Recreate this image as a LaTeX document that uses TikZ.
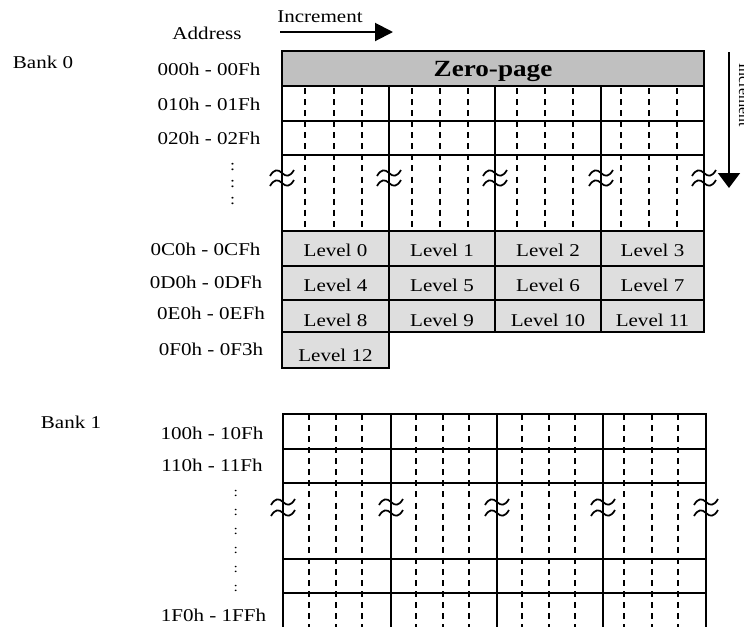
\documentclass[tikz,border=0pt]{standalone}
\usepackage{fontspec}
\setmainfont{Liberation Serif}[FakeStretch=1.17]
\newfontfamily\narrowserif{Liberation Serif}
\usetikzlibrary{arrows.meta}
\definecolor{zgray}{RGB}{192,192,192}
\definecolor{lgray}{RGB}{222,222,222}
\tikzset{
  gridline/.style={line width=1.4pt, line cap=rect},
  dashline/.style={line width=1.6pt, dash pattern=on 4.5pt off 3.8pt},
  lbl/.style={inner sep=0pt, anchor=base, font=\fontsize{13.5pt}{16pt}\selectfont},
  dotlbl/.style={inner sep=0pt, anchor=base},
  cell/.style={line width=1.4pt, draw=black, fill=lgray},
  breakmark/.pic={\draw[line width=1.3pt] (-12,3) .. controls (-8,-4) and (-4,-4) .. (0,0) .. controls (4,4) and (8,4) .. (12,-3);},
}
\begin{document}
\begin{tikzpicture}[x=0.75pt,y=-0.75pt]
\useasboundingbox (0,0) rectangle (744,626);

% ---------- Bank 0 ----------
\node[lbl] (bank0) at (43,68) {Bank 0};
\node[lbl] (addr) at (207,39) {Address};
\node[lbl] (inch) at (320,22) {Increment};
\coordinate (hs) at (280,32);
\coordinate (he) at (393,32);
\draw[line width=1.5pt, -{Triangle[length=13.5pt,width=13.5pt]}] (hs) -- (he);

\coordinate (vs) at (729,52);
\coordinate (ve) at (729,188);
\draw[line width=1.5pt, -{Triangle[length=11.25pt,width=16.5pt]}] (vs) -- (ve);
\node[inner sep=0pt, rotate=-90, anchor=base, font=\narrowserif\fontsize{11.8pt}{14pt}\selectfont] (incv) at (739,95) {Increment};

% zero-page
\draw[gridline, fill=zgray] (282,51) rectangle (704,86);
\node[inner sep=0pt, anchor=base, font=\bfseries\fontsize{17.4pt}{20pt}\selectfont] (zp) at (493,76) {Zero-page};

% dashed sub-columns
\foreach \x in {305,334,362,412,440,468,517,545,573,621,649,677}
  \draw[dashline] (\x,88) -- (\x,231);
% grid lines
\foreach \x in {282,389,495,601,704}
  \draw[gridline] (\x,86) -- (\x,231);
\foreach \y in {121,155}
  \draw[gridline] (282,\y) -- (704,\y);

% level cells
\foreach \r/\ya/\yb/\bl in {0/231/266/256.7, 1/266/300/291.7, 2/300/332/326.7}
  \foreach \c/\xa/\xb in {0/282/389, 1/389/495, 2/495/601, 3/601/704} {
    \pgfmathtruncatemacro\lv{4*\r+\c}
    \draw[cell] (\xa,\ya) rectangle (\xb,\yb);
    \node[lbl] (lev\lv) at ({(\xa+\xb)/2},\bl) {Level \lv};
  }
\draw[cell] (282,332) rectangle (389,368);
\node[lbl] (lev12) at (335.5,361.7) {Level 12};

% break marks
\foreach \x in {282,389,495,601,704} {
  \pic at (\x,173) {breakmark};
  \pic at (\x,183) {breakmark};
}

% address labels bank 0
\node[lbl] (a000) at (209,75) {000h - 00Fh};
\node[lbl] (a010) at (209,110.7) {010h - 01Fh};
\node[lbl] (a020) at (209,144) {020h - 02Fh};
\foreach \b [count=\i] in {170,187,204}
  \node[dotlbl, font=\fontsize{11.5pt}{13pt}\selectfont] (dA\i) at (232.5,\b) {:};
\node[lbl] (a0C0) at (205.5,255) {0C0h - 0CFh};
\node[lbl] (a0D0) at (206,288) {0D0h - 0DFh};
\node[lbl] (a0E0) at (211,319) {0E0h - 0EFh};
\node[lbl] (a0F0) at (211,355) {0F0h - 0F3h};

% ---------- Bank 1 ----------
\node[lbl] (bank1) at (71,428.3) {Bank 1};
\node[lbl] (a100) at (212,439) {100h - 10Fh};
\node[lbl] (a110) at (212,471.7) {110h - 11Fh};
\foreach \b [count=\i] in {496,515,534,553,572,591}
  \node[dotlbl, font=\fontsize{10pt}{12pt}\selectfont] (dB\i) at (235.7,\b) {:};
\node[lbl] (a1F0) at (213.5,621.7) {1F0h - 1FFh};

\foreach \x in {309,336,362,416,443,469,522,549,575,624,652,678}
  \draw[dashline] (\x,414) -- (\x,627);
\foreach \x in {283,391,497,603,706}
  \draw[gridline] (\x,414) -- (\x,627);
\foreach \y in {414,449,483,559,593}
  \draw[gridline] (283,\y) -- (706,\y);
\foreach \x in {283,391,497,603,706} {
  \pic at (\x,502) {breakmark};
  \pic at (\x,513) {breakmark};
}
\end{tikzpicture}
\end{document}
